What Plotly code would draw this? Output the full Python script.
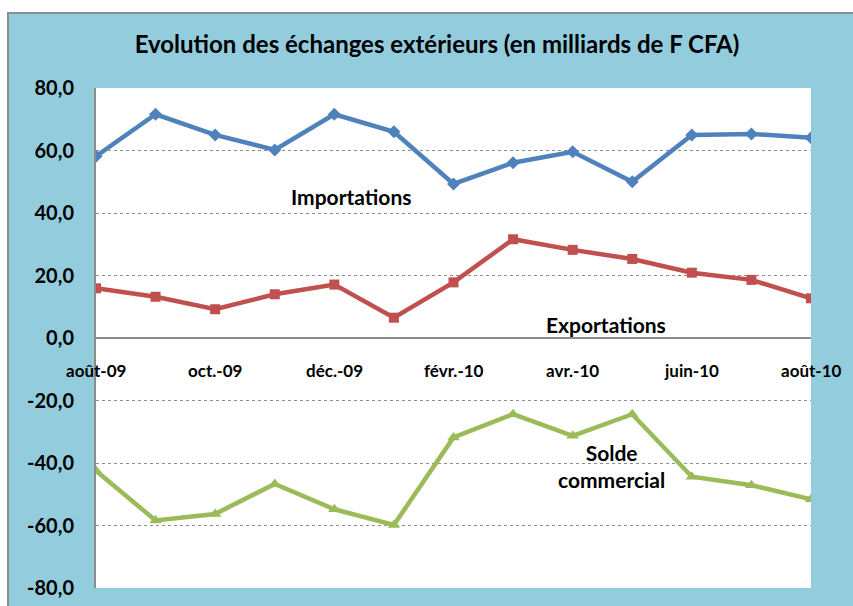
import plotly.graph_objects as go

months = ["août-09", "sept.-09", "oct.-09", "nov.-09", "déc.-09", "janv.-10", "févr.-10",
          "mars-10", "avr.-10", "mai-10", "juin-10", "juil.-10", "août-10"]
importations = [58.2, 71.6, 65.0, 60.2, 71.6, 66.0, 49.3, 56.1, 59.6, 50.0, 65.0, 65.3, 64.1]
exportations = [15.9, 13.2, 9.2, 14.0, 17.1, 6.5, 17.8, 31.6, 28.2, 25.3, 20.9, 18.6, 12.7]
solde = [-42.5, -58.4, -56.3, -46.7, -54.8, -59.8, -31.8, -24.4, -31.3, -24.4, -44.4, -47.1, -51.6]
y_ticks = [80, 60, 40, 20, 0, -20, -40, -60, -80]
y_ticktext = ["80,0", "60,0", "40,0", "20,0", "0,0", "-20,0", "-40,0", "-60,0", "-80,0"]
x_label_idx = [0, 2, 4, 6, 8, 10, 12]

FONT = "Lato"
idx = list(range(len(months)))

fig = go.Figure()
fig.add_trace(go.Scatter(x=idx, y=importations, mode="lines+markers", name="Importations",
                         line=dict(color="#4F81BD", width=4.5),
                         marker=dict(symbol="diamond", size=10, color="#4F81BD"),
                         text=months, hoverinfo="text+y"))
fig.add_trace(go.Scatter(x=idx, y=exportations, mode="lines+markers", name="Exportations",
                         line=dict(color="#C0504D", width=4.5),
                         marker=dict(symbol="square", size=10, color="#C0504D"),
                         text=months, hoverinfo="text+y"))
fig.add_trace(go.Scatter(x=idx, y=solde, mode="lines+markers", name="Solde commercial",
                         line=dict(color="#9BBB59", width=4.5),
                         marker=dict(symbol="triangle-up", size=11, color="#9BBB59"),
                         text=months, hoverinfo="text+y"))

annotations = []
for i in x_label_idx:
    annotations.append(dict(x=i, y=0, xref="x", yref="y", text=months[i], showarrow=False,
                            yanchor="middle", yshift=-32,
                            font=dict(family=FONT, size=17, color="black", weight="bold")))
annotations += [
    dict(x=4.28, y=45.4, xref="x", yref="y", text="Importations", showarrow=False,
         font=dict(family=FONT, size=21, color="black", weight="bold")),
    dict(x=8.56, y=4.2, xref="x", yref="y", text="Exportations", showarrow=False,
         font=dict(family=FONT, size=21, color="black", weight="bold")),
    dict(x=8.66, y=-41, xref="x", yref="y", text="Solde<br>commercial", showarrow=False,
         align="center",
         font=dict(family=FONT, size=21, color="black", weight="bold")),
]

fig.update_layout(
    width=853, height=606, autosize=False,
    margin=dict(l=96, r=42, t=88, b=18, autoexpand=False),
    paper_bgcolor="white",
    plot_bgcolor="rgba(0,0,0,0)",
    showlegend=False,
    title=dict(text="Evolution des échanges extérieurs (en milliards de F CFA)",
               x=437 / 853, xanchor="center", y=1 - 45 / 606, yanchor="middle",
               automargin=False,
               font=dict(family=FONT, size=24, color="black", weight="bold")),
    shapes=[
        dict(type="rect", xref="paper", yref="paper", x0=(8 - 96) / 715, x1=1.2,
             y0=-0.1, y1=(588 - 13) / 500, fillcolor="#93CDDD",
             line=dict(color="#8C8C8C", width=2), layer="below"),
        dict(type="rect", xref="paper", yref="paper", x0=0, x1=1, y0=0, y1=1,
             fillcolor="white", line=dict(width=0), layer="below"),
    ],
    annotations=annotations,
    xaxis=dict(range=[0, 12], showgrid=False, zeroline=False, showticklabels=False,
               showline=False, fixedrange=True, automargin=False),
    yaxis=dict(range=[-80, 80], tickvals=y_ticks, ticktext=y_ticktext, automargin=False,
               showgrid=True, gridcolor="#8C8C8C", griddash="dot", gridwidth=1,
               zeroline=True, zerolinecolor="#8C8C8C", zerolinewidth=2,
               showline=True, linecolor="#8C8C8C", linewidth=2,
               ticks="", ticklabelstandoff=16,
               tickfont=dict(family=FONT, size=20, color="black", weight="bold")),
)

fig.write_html("out.html", config={"displayModeBar": False},
               post_script="document.body.style.margin='0';document.body.style.overflow='hidden';")
